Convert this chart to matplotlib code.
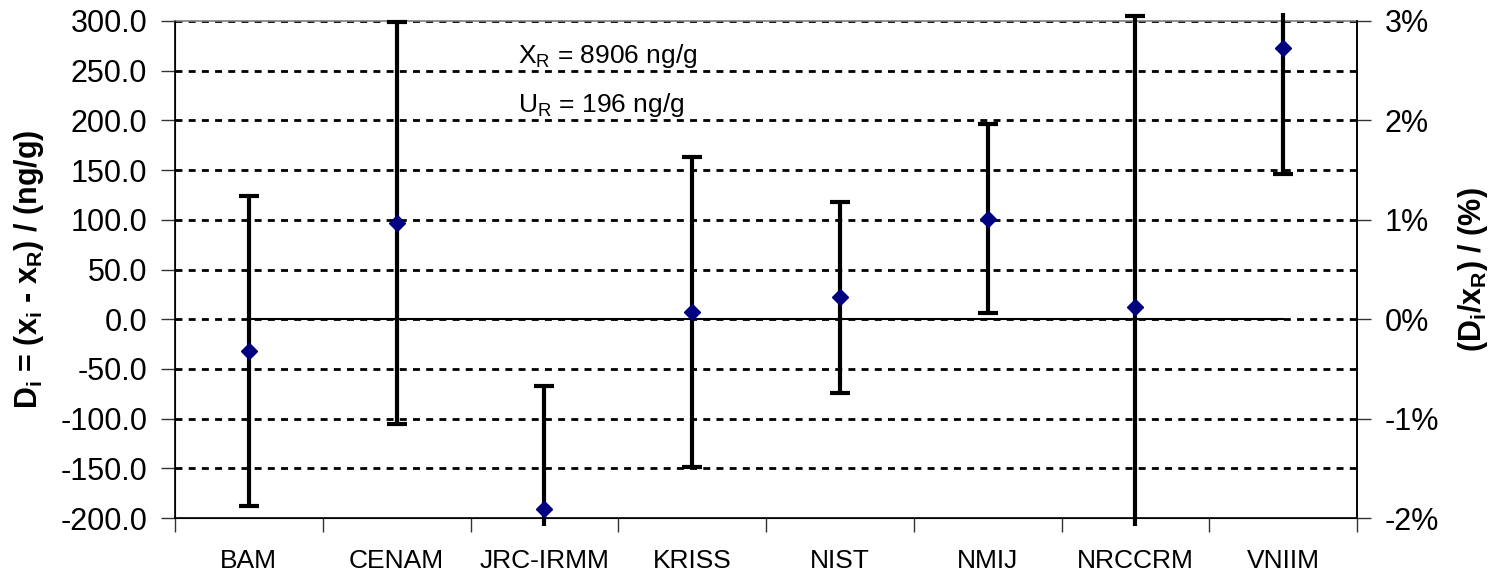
import numpy as np
import matplotlib
matplotlib.use('Agg')
import matplotlib.pyplot as plt
from matplotlib.patches import Rectangle

plt.rcParams['font.family'] = ['Liberation Sans', 'DejaVu Sans']
plt.rcParams['mathtext.fontset'] = 'custom'
plt.rcParams['mathtext.rm'] = 'Liberation Sans'
plt.rcParams['mathtext.bf'] = 'Liberation Sans:bold'
plt.rcParams['mathtext.default'] = 'regular'
plt.rcParams['lines.scale_dashes'] = False

# Datos
labs = ['BAM', 'CENAM', 'JRC-IRMM', 'KRISS', 'NIST', 'NMIJ', 'NRCCRM', 'VNIIM']
d_vals = [-32, 97, -191, 7, 22, 101, 12, 273]
u_vals = [156, 202, 124, 156, 96, 95, 293, 127]
ref_line = [0, 0, 0, 0, 0, 0, 0, 0]
y_ticks = [-200, -150, -100, -50, 0, 50, 100, 150, 200, 250, 300]
pct_ticks = [-2, -1, 0, 1, 2, 3]

fig = plt.figure(figsize=(14.93, 5.76), dpi=100)
ax = fig.add_axes([175/1493, 1 - 518/576, (1357 - 175)/1493, (518 - 21)/576])

x = np.arange(len(labs))

# grid
for yt in y_ticks[1:]:
    ax.axhline(yt, color='black', lw=2, linestyle=(0, (5, 4.5)), zorder=1)

ax.plot(x, ref_line, color='black', lw=1.5, zorder=2)

eb = ax.errorbar(x, d_vals, yerr=u_vals, fmt='none', ecolor='black',
                 elinewidth=3, capsize=7.5, capthick=3, zorder=3)
clip = Rectangle((0, -0.017), 1, 1.034, transform=ax.transAxes, visible=False)
ax.add_patch(clip)
for art in eb.lines[1]:
    art.set_clip_path(clip)
for art in eb.lines[2]:
    art.set_clip_path(clip)

ax.plot(x, d_vals, linestyle='none', marker='D', ms=8.5, color='#000080',
        mec='#000080', zorder=4, clip_on=False)

ax.set_xlim(-0.5, len(labs) - 0.5)
ax.set_ylim(-200, 300)
ax.set_yticks(y_ticks)
ax.set_yticklabels([f'{v:.1f}' for v in y_ticks])
ax.set_xticks(x)
ax.set_xticklabels(labs)
ax.set_xticks(np.arange(-0.5, len(labs)), minor=True)
ax.tick_params(axis='x', which='major', length=0, pad=22, labelsize=19)
ax.tick_params(axis='x', which='minor', length=10, width=1, color='#333333', direction='out')
ax.tick_params(axis='y', length=10, width=1, color='#333333', pad=10, labelsize=22)

for s in ['left', 'bottom', 'right']:
    ax.spines[s].set_linewidth(1.2)
ax.spines['top'].set_color('#808080')
ax.spines['top'].set_linewidth(1.2)

ax.set_ylabel(r'$\mathbf{D_i}$ = (x$_\mathbf{i}$ - x$_\mathbf{R}$) / (ng/g)', fontsize=22,
              fontweight='bold', labelpad=10)

ax.text(1.82, 265, r'X$_\mathregular{R}$ = 8906 ng/g', fontsize=19, va='center', ha='left')
ax.text(1.82, 215, r'U$_\mathregular{R}$ = 196 ng/g', fontsize=19, va='center', ha='left')

ax2 = ax.twinx()
ax2.set_ylim(-2, 3)
ax2.set_yticks(pct_ticks)
ax2.set_yticklabels([f'{v}%' for v in pct_ticks])
ax2.tick_params(axis='y', length=10, width=1, color='#333333', pad=10, labelsize=22)
ax2.spines['right'].set_linewidth(1.2)
ax2.spines['top'].set_visible(False)
ax2.set_ylabel(r'($\mathbf{D_i}$/x$_\mathbf{R}$) / (%)', fontsize=22, fontweight='bold',
               labelpad=12)

fig.savefig('out.png', dpi=100)
